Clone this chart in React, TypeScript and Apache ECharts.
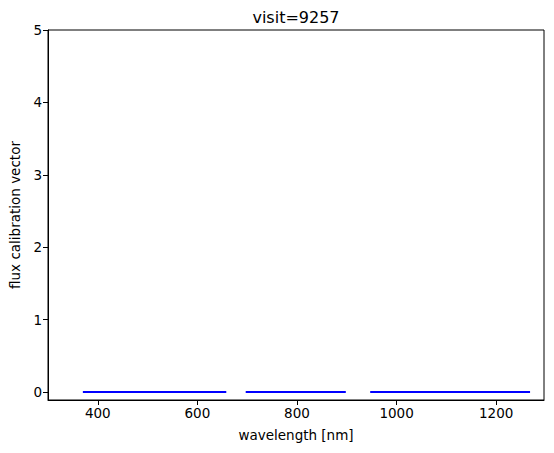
import React, { useEffect, useRef } from "react";
import * as echarts from "echarts";

const xTicks = [400, 600, 800, 1000, 1200];
const yTicks = [0, 1, 2, 3, 4, 5];
// three wavelength segments of the flux calibration vector (start, end)
const segStarts = [370, 697, 947];
const segEnds = [658, 898, 1268];
const segValues = [0, 0, 0];

export default function App() {
  const ref = useRef<HTMLDivElement>(null);
  useEffect(() => {
    const chart = echarts.init(ref.current!, null, { renderer: "svg" });
    const data: any[] = [];
    segStarts.forEach((s, i) => {
      if (i > 0) data.push([(segEnds[i - 1] + s) / 2, null]);
      data.push([s, segValues[i]]);
      data.push([segEnds[i], segValues[i]]);
    });
    const font = "DejaVu Sans";
    chart.setOption({
      animation: false,
      textStyle: { fontFamily: font },
      grid: {
        left: 48,
        right: 10,
        top: 30,
        bottom: 53,
        show: true,
        borderColor: "#000",
        borderWidth: 1,
        backgroundColor: "transparent",
      },
      graphic: [
        {
          type: "text",
          x: 296,
          y: 17,
          style: {
            text: "visit=9257",
            fontFamily: font,
            fontSize: 16,
            fill: "#000",
            align: "center",
            verticalAlign: "middle",
          },
        },
      ],
      xAxis: {
        type: "value",
        min: 300,
        max: 1296,
        name: "wavelength [nm]",
        nameLocation: "middle",
        nameGap: 28,
        nameTextStyle: { fontFamily: font, fontSize: 13.5, color: "#000" },
        axisLine: { show: true, onZero: false, lineStyle: { color: "#000" } },
        axisTick: { show: true, length: 5, customValues: xTicks, lineStyle: { color: "#000" } },
        axisLabel: {
          customValues: xTicks,
          formatter: (v: number) => String(v),
          fontFamily: font,
          fontSize: 13.5,
          color: "#000",
          margin: 6,
        },
        splitLine: { show: false },
      },
      yAxis: {
        type: "value",
        min: -0.11,
        max: 5,
        name: "flux calibration vector",
        nameLocation: "middle",
        nameGap: 26,
        nameTextStyle: { fontFamily: font, fontSize: 13.5, color: "#000" },
        axisLine: { show: true, onZero: false, lineStyle: { color: "#000" } },
        axisTick: { show: true, length: 5, customValues: yTicks, lineStyle: { color: "#000" } },
        axisLabel: {
          customValues: yTicks,
          formatter: (v: number) => String(v),
          fontFamily: font,
          fontSize: 13.5,
          color: "#000",
          margin: 6,
        },
        splitLine: { show: false },
      },
      series: [
        {
          type: "line",
          data,
          showSymbol: false,
          connectNulls: false,
          lineStyle: { color: "#0000ff", width: 2 },
          itemStyle: { color: "#0000ff" },
        },
      ],
    });
    return () => chart.dispose();
  }, []);
  return (
    <div
      ref={ref}
      style={{ position: "absolute", left: 0, top: 0, width: 554, height: 453, background: "#fff" }}
    />
  );
}
